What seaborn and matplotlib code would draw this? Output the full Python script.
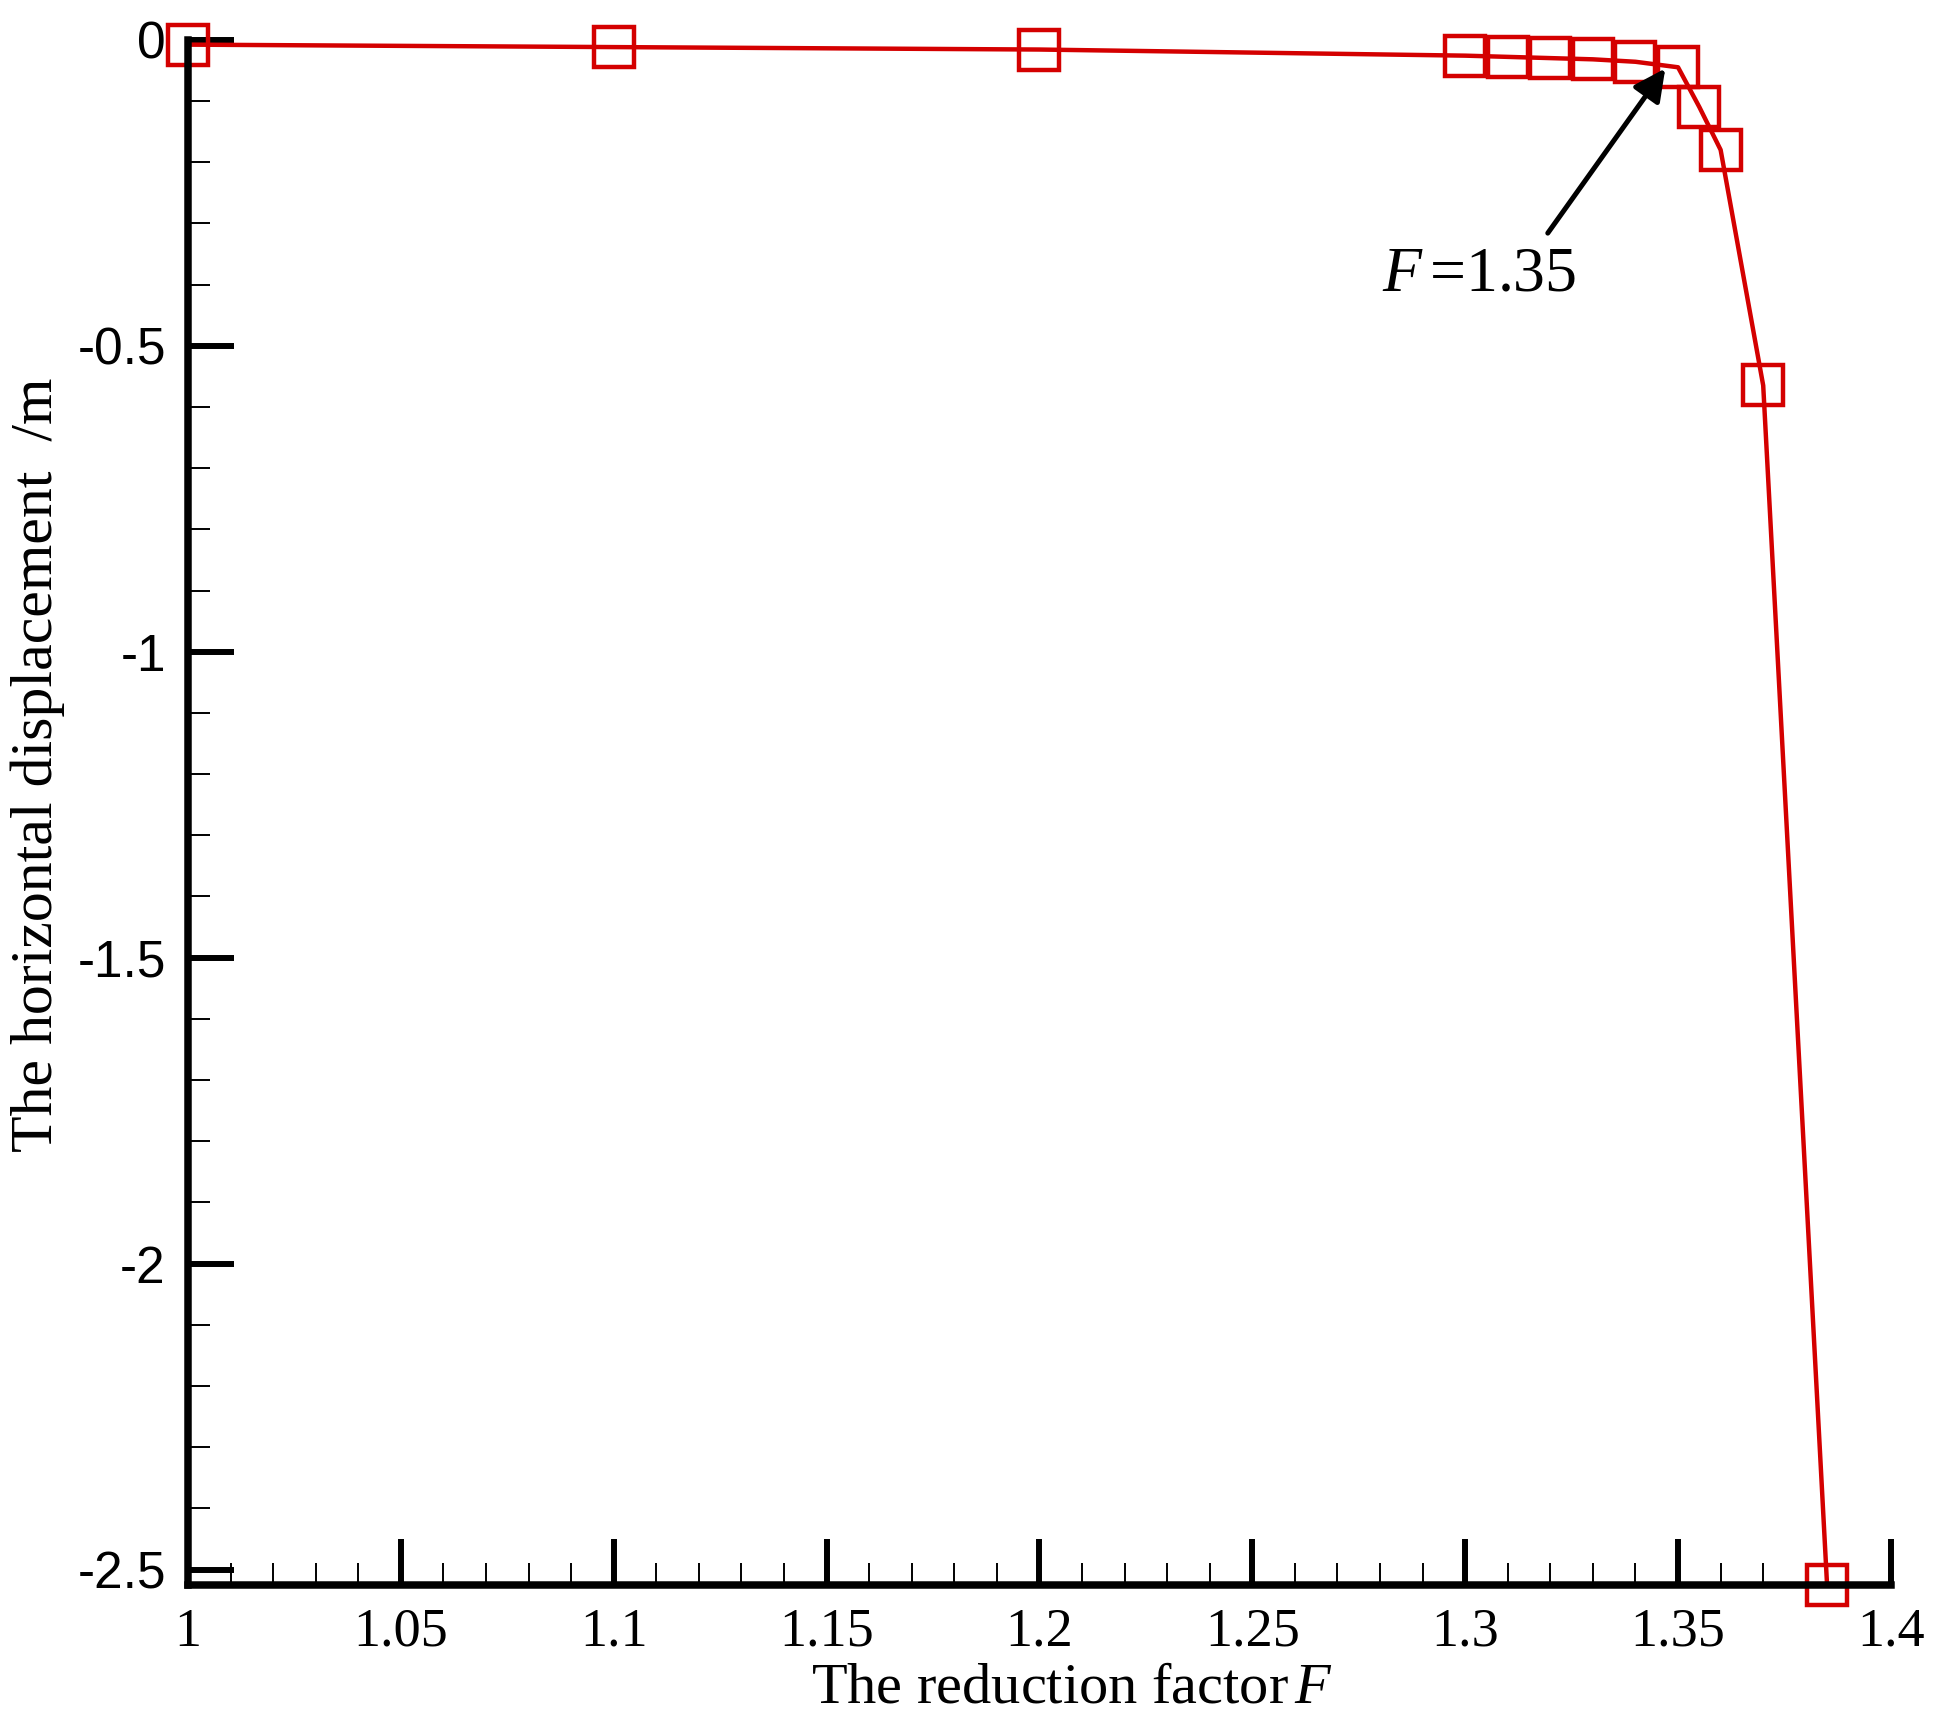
import matplotlib
matplotlib.use("Agg")
import matplotlib.pyplot as plt
import seaborn as sns
from matplotlib.ticker import MultipleLocator, FormatStrFormatter

# reduction factor F and horizontal displacement (m)
factor = [1.0, 1.1, 1.2, 1.3, 1.31, 1.32, 1.33, 1.34, 1.35, 1.355, 1.36, 1.37, 1.385]
displacement = [-0.008, -0.012, -0.016, -0.026, -0.028, -0.030, -0.032, -0.036,
                -0.045, -0.11, -0.18, -0.565, -2.525]

x_ticks = [1, 1.05, 1.1, 1.15, 1.2, 1.25, 1.3, 1.35, 1.4]
y_ticks = [0, -0.5, -1, -1.5, -2, -2.5]

sns.set_theme(style="ticks")
plt.rcParams['axes.unicode_minus'] = False
plt.rcParams['font.family'] = ['Liberation Serif', 'DejaVu Serif']
plt.rcParams['mathtext.fontset'] = 'custom'
plt.rcParams['mathtext.rm'] = 'Liberation Serif'
plt.rcParams['mathtext.it'] = 'Liberation Serif:italic'
for key in ['text.color', 'axes.labelcolor', 'xtick.color', 'ytick.color']:
    plt.rcParams[key] = 'black'

red = '#D40000'
fig = plt.figure(figsize=(19.42, 17.28), dpi=100)
ax = fig.add_axes([0.0968, 0.0828, 0.8769, 0.8942])

sns.lineplot(x=factor, y=displacement, ax=ax, sort=False, color=red, linewidth=3.2,
             marker='s', markersize=29, markerfacecolor='none',
             markeredgecolor=red, markeredgewidth=3.2)
for ln in ax.lines:
    ln.set_clip_on(False)
    ln.set_zorder(1)

ax.set_xlim(1, 1.4)
ax.set_ylim(-2.525, 0)
ax.set_xticks(x_ticks)
ax.set_yticks(y_ticks)
ax.xaxis.set_minor_locator(MultipleLocator(0.01))
ax.yaxis.set_minor_locator(MultipleLocator(0.1))
ax.xaxis.set_major_formatter(FormatStrFormatter('%g'))
ax.yaxis.set_major_formatter(FormatStrFormatter('%g'))

for s in ['top', 'right']:
    ax.spines[s].set_visible(False)
for s in ['left', 'bottom']:
    ax.spines[s].set_linewidth(5.4)
    ax.spines[s].set_color('black')
    ax.spines[s].set_zorder(3)

ax.tick_params(which='major', direction='in', length=33, width=4.3, color='black')
ax.tick_params(which='minor', direction='in', length=16, width=1.4, color='black')
ax.tick_params(axis='x', which='major', labelsize=39, pad=16)
ax.tick_params(axis='y', which='major', labelsize=37, pad=16)
for lab in ax.get_yticklabels():
    lab.set_family(['Liberation Sans', 'DejaVu Sans'])

ax.set_xlabel('The reduction factor$\\,\\mathit{F}$', fontsize=42)
ax.set_ylabel('The horizontal displacement  /m', fontsize=43)
ax.xaxis.set_label_coords(0.519, -0.050)
ax.yaxis.set_label_coords(-0.072, 0.531)

ax.annotate('', xy=(1.347, -0.047), xytext=(1.3194, -0.316),
            arrowprops=dict(arrowstyle='-|>', color='black', lw=3.6,
                            mutation_scale=48, shrinkA=0, shrinkB=0))
ax.text(1.3034, -0.385, '$\\mathit{F}\\,$=1.35', fontsize=46, ha='center', va='center')

ax.set_facecolor('white')
fig.savefig('out.png', dpi=100, facecolor='white')
